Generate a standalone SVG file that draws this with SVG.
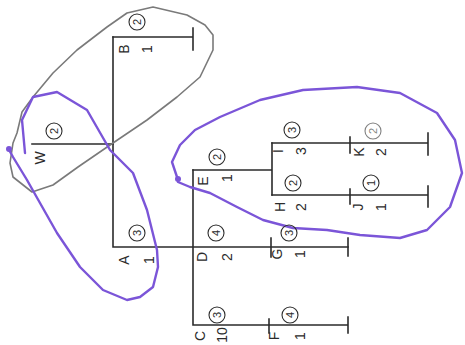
<svg xmlns="http://www.w3.org/2000/svg" width="465" height="345" viewBox="0 0 465 345">
<style>
.ln{stroke:#2b2b2b;stroke-width:1.6;fill:none;stroke-linecap:square}
.t{font-family:"Liberation Sans","DejaVu Sans",sans-serif;font-size:14px;fill:#2b2b2b;text-anchor:middle;dominant-baseline:central}
.cn{font-family:"Liberation Sans","DejaVu Sans",sans-serif;font-size:11px;fill:#2b2b2b;text-anchor:middle;dominant-baseline:central}
.c{fill:none;stroke:#2b2b2b;stroke-width:1.1}
.gray{fill:none;stroke:#7a7a7a;stroke-width:1.6;stroke-linejoin:round;stroke-linecap:round}
.pur{fill:none;stroke:#7b55d8;stroke-width:2.4;stroke-linejoin:round;stroke-linecap:round}
</style>
<rect width="465" height="345" fill="#ffffff"/>
<g id="connectors">
<path class="ln" d="M113,37 V247 H348"/>
<path class="ln" d="M113,37 H193 M193,28 V50"/>
<path class="ln" d="M32,144 H113"/>
<path class="ln" d="M193,170 V325 H348 M269,319 V333 M348,317 V333"/>
<path class="ln" d="M271,238 V257 M348,238 V256"/>
<path class="ln" d="M193,170 H272 M272,143 V195"/>
<path class="ln" d="M272,143 H428 M350,137 V153 M428,133 V155"/>
<path class="ln" d="M272,195 H428 M350,189 V204 M428,186 V207"/>
</g>
<g id="loops">
<path class="gray" d="M17,133 L22,112 L33,97 L53,73 L77,50 L107,27 L127,13 L153,7 L187,15 L205,25 L213,35 L213,50 L200,77 L177,97 L147,120 L113,143 L78,167 L53,185 L32,192 L13,177 L10,163 L13,143 Z"/>
<path class="pur" d="M25,153 L22,120 L33,97 L57,92 L87,110 L110,150 L133,173 L147,210 L157,250 L158,267 L153,287 L140,297 L127,300 L103,290 L80,267 L57,233 L40,203 L27,180 L13,157 L8,148"/>
<circle cx="9" cy="149" r="3" fill="#7b55d8"/>
<path class="pur" d="M178,180 L172,162 L180,145 L195,130 L220,117 L260,100 L303,90 L357,87 L400,93 L437,113 L455,140 L462,173 L450,207 L427,230 L400,238 L360,235 L327,230 L293,228 L263,220 L237,207 L210,193 L190,187 L178,182"/>
<circle cx="178" cy="179" r="3" fill="#7b55d8"/>
</g>
<g id="node-B">
<circle class="c" cx="137" cy="22" r="8"/><text class="cn" transform="translate(137,22) rotate(-90)">2</text>
<text class="t" transform="translate(124,49) rotate(-90)">B</text>
<text class="t" transform="translate(147,49) rotate(-90)">1</text>
</g>
<g id="node-W">
<circle class="c" cx="54" cy="131" r="8"/><text class="cn" transform="translate(54,131) rotate(-90)">2</text>
<text class="t" transform="translate(40,158) rotate(-90)">W</text>
</g>
<g id="node-A">
<circle class="c" cx="137" cy="233" r="8"/><text class="cn" transform="translate(137,233) rotate(-90)">3</text>
<text class="t" transform="translate(124,260) rotate(-90)">A</text>
<text class="t" transform="translate(149,260) rotate(-90)">1</text>
</g>
<g id="node-D">
<circle class="c" cx="216" cy="233" r="8"/><text class="cn" transform="translate(216,233) rotate(-90)">4</text>
<text class="t" transform="translate(202,257) rotate(-90)">D</text>
<text class="t" transform="translate(227,257) rotate(-90)">2</text>
</g>
<g id="node-E">
<circle class="c" cx="217" cy="157" r="8"/><text class="cn" transform="translate(217,157) rotate(-90)">2</text>
<text class="t" transform="translate(203,181) rotate(-90)">E</text>
<text class="t" transform="translate(227,178) rotate(-90)">1</text>
</g>
<g id="node-I">
<circle class="c" cx="292" cy="130" r="8"/><text class="cn" transform="translate(292,130) rotate(-90)">3</text>
<text class="t" transform="translate(278,151) rotate(-90)">I</text>
<text class="t" transform="translate(301,151) rotate(-90)">3</text>
</g>
<g id="node-K">
<circle class="c" cx="373" cy="131" r="8" stroke-opacity="0.6"/><text class="cn" transform="translate(373,131) rotate(-90)" fill-opacity="0.6">2</text>
<text class="t" transform="translate(359,152) rotate(-90)">K</text>
<text class="t" transform="translate(381,152) rotate(-90)">2</text>
</g>
<g id="node-H">
<circle class="c" cx="293" cy="183" r="8"/><text class="cn" transform="translate(293,183) rotate(-90)">2</text>
<text class="t" transform="translate(280,207) rotate(-90)">H</text>
<text class="t" transform="translate(301,207) rotate(-90)">2</text>
</g>
<g id="node-J">
<circle class="c" cx="371" cy="183" r="8"/><text class="cn" transform="translate(371,183) rotate(-90)">1</text>
<text class="t" transform="translate(358,207) rotate(-90)">J</text>
<text class="t" transform="translate(381,207) rotate(-90)">1</text>
</g>
<g id="node-G">
<circle class="c" cx="289" cy="233" r="8"/><text class="cn" transform="translate(289,233) rotate(-90)">3</text>
<text class="t" transform="translate(277,254) rotate(-90)">G</text>
<text class="t" transform="translate(300,254) rotate(-90)">1</text>
</g>
<g id="node-C">
<circle class="c" cx="217" cy="315" r="8"/><text class="cn" transform="translate(217,315) rotate(-90)">3</text>
<text class="t" transform="translate(200,336) rotate(-90)">C</text>
<text class="t" transform="translate(222,335) rotate(-90)">10</text>
</g>
<g id="node-F">
<circle class="c" cx="290" cy="315" r="8"/><text class="cn" transform="translate(290,315) rotate(-90)">4</text>
<text class="t" transform="translate(274,336) rotate(-90)">F</text>
<text class="t" transform="translate(300,336) rotate(-90)">1</text>
</g>
</svg>
